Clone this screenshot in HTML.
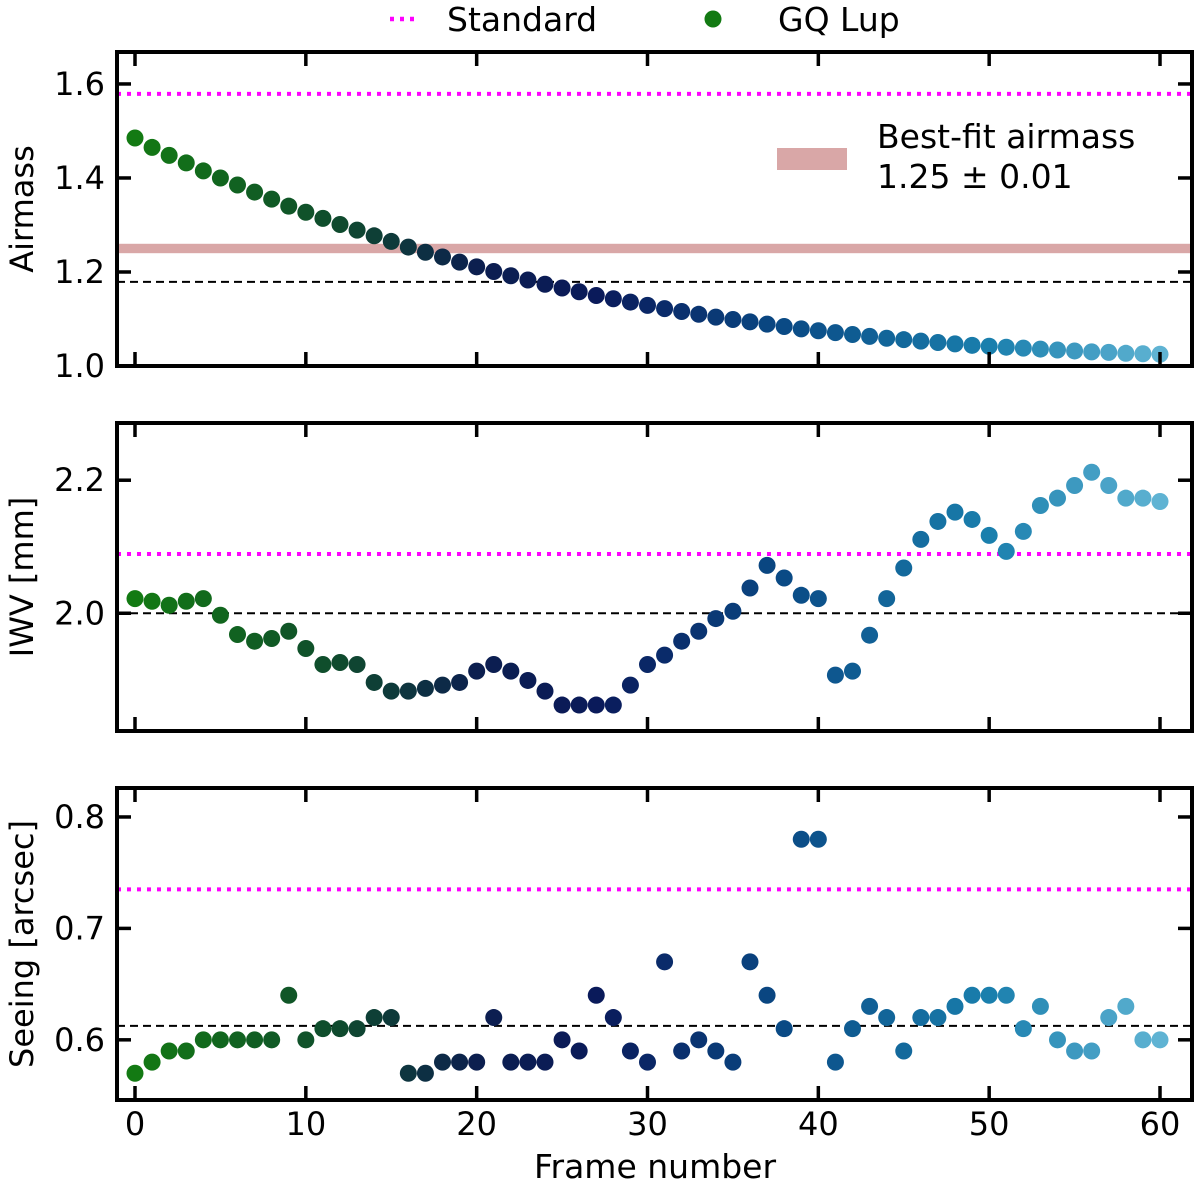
<!DOCTYPE html>
<html><head><meta charset="utf-8"><style>
body{margin:0;background:#fff}
svg text{font-family:"DejaVu Sans","Liberation Sans",sans-serif;fill:#000}
</style></head><body>
<svg id="chart" width="1200" height="1186" xmlns="http://www.w3.org/2000/svg"></svg>
<script>
const frames = Array.from({length:61},(_,i)=>i);
const airmass = [1.485,1.465,1.448,1.432,1.415,1.400,1.385,1.370,1.355,1.340,1.327,1.314,1.301,1.289,1.277,1.265,1.253,1.242,1.232,1.221,1.211,1.201,1.192,1.183,1.174,1.166,1.158,1.150,1.143,1.136,1.129,1.122,1.116,1.110,1.104,1.099,1.094,1.089,1.084,1.079,1.075,1.071,1.067,1.063,1.059,1.056,1.053,1.050,1.047,1.044,1.042,1.040,1.038,1.036,1.034,1.032,1.030,1.029,1.027,1.026,1.025];
const iwv = [2.022,2.018,2.012,2.018,2.022,1.997,1.968,1.958,1.962,1.973,1.947,1.923,1.926,1.923,1.896,1.883,1.883,1.887,1.892,1.896,1.913,1.923,1.913,1.899,1.883,1.862,1.862,1.862,1.862,1.892,1.923,1.937,1.958,1.973,1.992,2.003,2.038,2.072,2.053,2.027,2.022,1.907,1.913,1.967,2.022,2.068,2.111,2.138,2.152,2.141,2.117,2.093,2.123,2.162,2.173,2.192,2.212,2.192,2.173,2.173,2.168];
const seeing = [0.57,0.58,0.59,0.59,0.60,0.60,0.60,0.60,0.60,0.64,0.60,0.61,0.61,0.61,0.62,0.62,0.57,0.57,0.58,0.58,0.58,0.62,0.58,0.58,0.58,0.60,0.59,0.64,0.62,0.59,0.58,0.67,0.59,0.60,0.59,0.58,0.67,0.64,0.61,0.78,0.78,0.58,0.61,0.63,0.62,0.59,0.62,0.62,0.63,0.64,0.64,0.64,0.61,0.63,0.60,0.59,0.59,0.62,0.63,0.60,0.60];
const standardVals = [1.579, 2.089, 0.735];
const meanVals = [1.179, 2.0, 0.6125];
const bestFit = 1.25, bestFitErr = 0.01;
const xTicks = [0,10,20,30,40,50,60];
const yTicks = [[1.0,1.2,1.4,1.6],[2.0,2.2],[0.6,0.7,0.8]];
const yLabels = ["Airmass","IWV [mm]","Seeing [arcsec]"];
const yRanges = [[1.0,1.668],[1.823,2.286],[0.546,0.826]];
const panels = [[52,366],[423,731],[788,1100]];
const series = [airmass, iwv, seeing];
const yFmt = [1,1,1];

const NS="http://www.w3.org/2000/svg";
const svg=document.getElementById('chart');
const L=117,R=1192;
const xs=v=>135+(v-0)*(1160-135)/60;
function mk(t,a,p){const e=document.createElementNS(NS,t);for(const k in a)e.setAttribute(k,a[k]);(p||svg).appendChild(e);return e;}
const stops=[[0,[19,122,19]],[12,[15,74,46]],[20,[12,31,79]],[27,[10,26,90]],[38,[10,74,133]],[50,[26,127,173]],[60,[95,179,211]]];
function col(i){for(let k=0;k<stops.length-1;k++){const a=stops[k],b=stops[k+1];if(i<=b[0]){const t=(i-a[0])/(b[0]-a[0]);return 'rgb('+a[1].map((c,j)=>Math.round(c+(b[1][j]-c)*t)).join(',')+')';}}return 'rgb(95,179,211)';}

panels.forEach((pp,pi)=>{
  const [top,bot]=pp,[y0,y1]=yRanges[pi];
  const ys=v=>bot-(v-y0)*(bot-top)/(y1-y0);
  const g=mk('g',{});
  
  
  const clip=mk('clipPath',{id:'c'+pi},g);mk('rect',{x:L,y:top,width:R-L,height:bot-top},clip);
  if(pi===0){
    const band=mk('rect',{x:L,y:ys(bestFit+bestFitErr),width:R-L,height:ys(bestFit-bestFitErr)-ys(bestFit+bestFitErr),fill:'#d9a7a7'},g);
    
    
  }
  const sl=mk('line',{x1:L,x2:R,y1:ys(standardVals[pi]),y2:ys(standardVals[pi]),stroke:'#ff00ff','stroke-width':4,'stroke-dasharray':'4 6'},g);
  
  
  const ml=mk('line',{x1:L,x2:R,y1:ys(meanVals[pi]),y2:ys(meanVals[pi]),stroke:'#000','stroke-width':2,'stroke-dasharray':'8 5'},g);
  
  
  const pg=mk('g',{'clip-path':'url(#c'+pi+')'},g);
  series[pi].forEach((v,i)=>{
    const c=mk('circle',{cx:xs(frames[i]),cy:ys(v),r:8.5,fill:col(i)},pg);
    
    
  });
  xTicks.forEach(t=>{
    mk('line',{x1:xs(t),x2:xs(t),y1:bot,y2:bot-14,stroke:'#000','stroke-width':3.5},g);
    mk('line',{x1:xs(t),x2:xs(t),y1:top,y2:top+14,stroke:'#000','stroke-width':3.5},g);
    if(pi===2){const tx=mk('text',{x:xs(t),y:1135,'font-size':32,'text-anchor':'middle'},g);tx.textContent=t;
      
      }
  });
  yTicks[pi].forEach(t=>{
    const y=ys(t);
    mk('line',{x1:L,x2:L+14,y1:y,y2:y,stroke:'#000','stroke-width':3.5},g);
    mk('line',{x1:R,x2:R-14,y1:y,y2:y,stroke:'#000','stroke-width':3.5},g);
    const tx=mk('text',{x:105,y:y+11,'font-size':32,'text-anchor':'end'},g);tx.textContent=t.toFixed(yFmt[pi]);
    
    
  });
  mk('rect',{x:L,y:top,width:R-L,height:bot-top,fill:'none',stroke:'#000','stroke-width':4},g);
  const cy=(top+bot)/2;
  const yl=mk('text',{x:33,y:cy,'font-size':32,'text-anchor':'middle',transform:'rotate(-90 33 '+cy+')'},g);yl.textContent=yLabels[pi];
  
  
});
const lg=mk('g',{});


mk('rect',{x:777,y:148,width:70,height:22,fill:'#d9a7a7'},lg);
let t=mk('text',{x:877,y:148,'font-size':33},lg);t.textContent='Best-fit airmass';
t=mk('text',{x:877,y:188,'font-size':33},lg);t.textContent='1.25 ± 0.01';
const tl=mk('g',{});


mk('line',{x1:390,x2:420,y1:19,y2:19,stroke:'#ff00ff','stroke-width':4.5,'stroke-dasharray':'4 6'},tl);
t=mk('text',{x:447,y:31,'font-size':33},tl);t.textContent='Standard';
mk('circle',{cx:713,cy:19,r:8.5,fill:'#137a13'},tl);
t=mk('text',{x:778,y:31,'font-size':33},tl);t.textContent='GQ Lup';
const xl=mk('text',{x:655,y:1178,'font-size':33,'text-anchor':'middle'});xl.textContent='Frame number';


</script>
</body></html>
